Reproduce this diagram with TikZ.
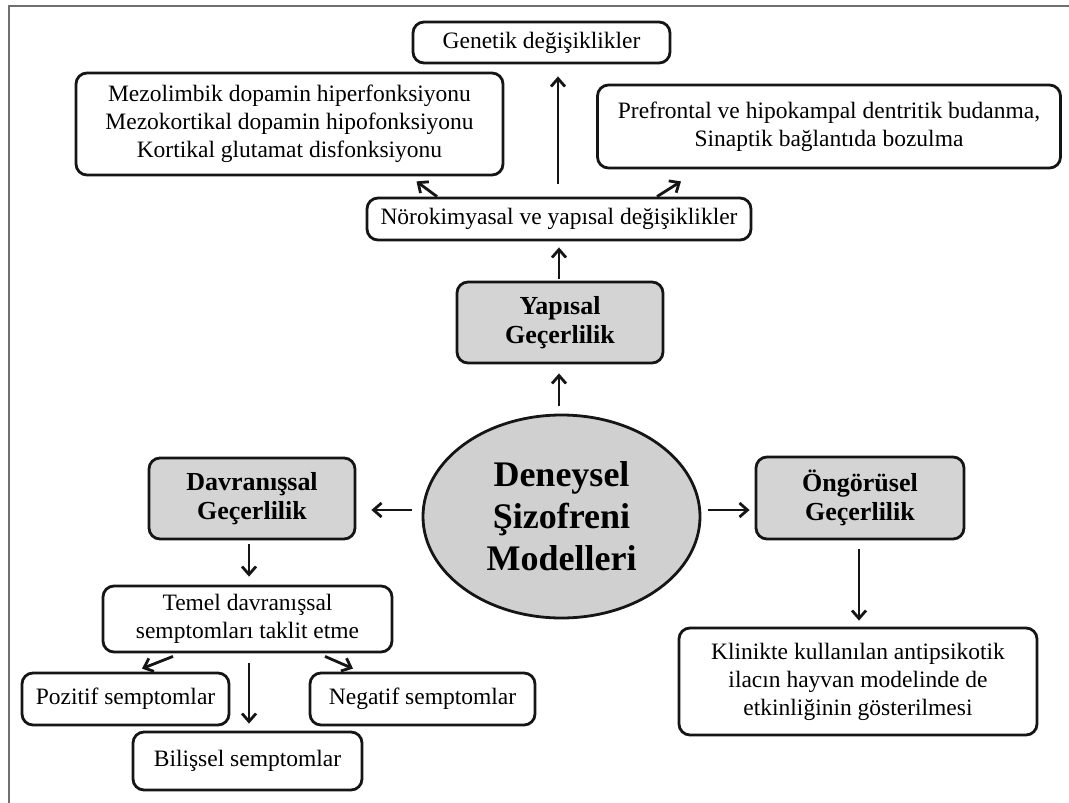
\documentclass[tikz,border=0pt]{standalone}
\usepackage{fontspec}
\setmainfont{Liberation Serif}
\usetikzlibrary{shapes.geometric,arrows.meta}
\definecolor{boxgray}{HTML}{D4D4D4}
\definecolor{ellgray}{HTML}{D0D0D0}
\definecolor{linec}{HTML}{151515}
\definecolor{framec}{HTML}{707070}
\tikzset{
  x=1pt,y=-1pt,
  basebox/.style={draw=linec,line width=2.8pt,rounded corners=11pt,inner sep=0pt,align=center,
    font=\fontsize{23.5}{28}\selectfont},
  whitebox/.style={basebox,fill=white},
  graybox/.style={basebox,fill=boxgray,font=\fontsize{26}{29}\selectfont\bfseries},
  ellnode/.style={ellipse,draw=linec,line width=2.8pt,fill=ellgray,inner sep=0pt,align=center,
    font=\fontsize{36}{42}\selectfont\bfseries},
  arr/.style={draw=linec,line width=2.8pt,-{Straight Barb[length=8pt,width=14pt,line width=2.8pt]}},
}
\begin{document}
\begin{tikzpicture}
\useasboundingbox (0,0) rectangle (1069,803);
% frame
\draw[framec,line width=1.3pt] (9,803) -- (9,6) -- (1069,6);

% top section
\node[whitebox,minimum width=257pt,minimum height=41pt] (gen) at (541.5,42.5) {Genetik değişiklikler};
\node[whitebox,minimum width=427pt,minimum height=102pt] (mezo) at (289.5,124) {Mezolimbik dopamin hiperfonksiyonu\\Mezokortikal dopamin hipofonksiyonu\\Kortikal glutamat disfonksiyonu};
\node[whitebox,minimum width=463pt,minimum height=83pt] (pref) at (829,126.5) {Prefrontal ve hipokampal dentritik budanma,\\Sinaptik bağlantıda bozulma};
\node[whitebox,minimum width=384pt,minimum height=42pt] (noro) at (559,219) {Nörokimyasal ve yapısal değişiklikler};
\node[graybox,minimum width=206pt,minimum height=81pt] (yap) at (560,322.5) {Yapısal\\Geçerlilik};

% centre
\node[ellnode,minimum width=277pt,minimum height=203pt] (ell) at (561.5,516.5) {Deneysel\\Şizofreni\\Modelleri};
\node[graybox,minimum width=206pt,minimum height=81pt] (dav) at (252,498.5) {Davranışsal\\Geçerlilik};
\node[graybox,minimum width=208pt,minimum height=82pt] (ong) at (860,498) {Öngörüsel\\Geçerlilik};

% bottom left
\node[whitebox,minimum width=289pt,minimum height=66pt] (temel) at (247.5,619) {Temel davranışsal\\semptomları taklit etme};
\node[whitebox,minimum width=207pt,minimum height=52pt] (poz) at (125.5,699) {Pozitif semptomlar};
\node[whitebox,minimum width=225pt,minimum height=52pt] (neg) at (422.5,699) {Negatif semptomlar};
\node[whitebox,minimum width=229pt,minimum height=58pt] (bil) at (247.5,761) {Bilişsel semptomlar};

% bottom right
\node[whitebox,minimum width=358pt,minimum height=107pt] (kli) at (858,681.5) {Klinikte kullanılan antipsikotik\\ilacın hayvan modelinde de\\etkinliğinin gösterilmesi};

% connectors
\draw[arr,shorten <=13pt,shorten >=12pt] ([xshift=-1pt]noro.north) -- ([xshift=-1pt]noro.north |- gen.south);
\draw[arr] ([xshift=-122pt]noro.north) -- ([xshift=127pt,yshift=-5pt]mezo.south);
\draw[arr] ([xshift=98pt]noro.north) -- ([xshift=-148pt,yshift=-12pt]pref.south);
\draw[arr,shorten <=2pt,shorten >=6pt] ([xshift=-1pt]yap.north) -- ([xshift=-1pt]yap.north |- noro.south);
\draw[arr,shorten <=8pt,shorten >=9pt] ([xshift=-2.5pt]ell.north) -- ([xshift=-2.5pt]ell.north |- yap.south);
\draw[arr] ([xshift=-10pt,yshift=6.5pt]ell.west) -- ([xshift=15pt,yshift=-11.5pt]dav.east);
\draw[arr] ([xshift=7pt,yshift=6.5pt]ell.east) -- ([xshift=-5pt,yshift=-12pt]ong.west);
\draw[arr,shorten <=4pt,shorten >=8pt] ([xshift=-3pt]dav.south) -- ([xshift=-3pt]dav.south |- temel.north);
\draw[arr] ([xshift=-74.5pt,yshift=-3pt]temel.south) -- ([xshift=16.5pt,yshift=3pt]poz.north);
\draw[arr,shorten <=10pt,shorten >=7pt] ([xshift=1.5pt]temel.south) -- ([xshift=1.5pt]temel.south |- bil.north);
\draw[arr] ([xshift=77.5pt,yshift=-3pt]temel.south) -- ([xshift=-69.5pt,yshift=3pt]neg.north);
\draw[arr,shorten <=9pt,shorten >=6pt] ([xshift=-1pt]ong.south) -- ([xshift=-1pt]ong.south |- kli.north);
\end{tikzpicture}
\end{document}
